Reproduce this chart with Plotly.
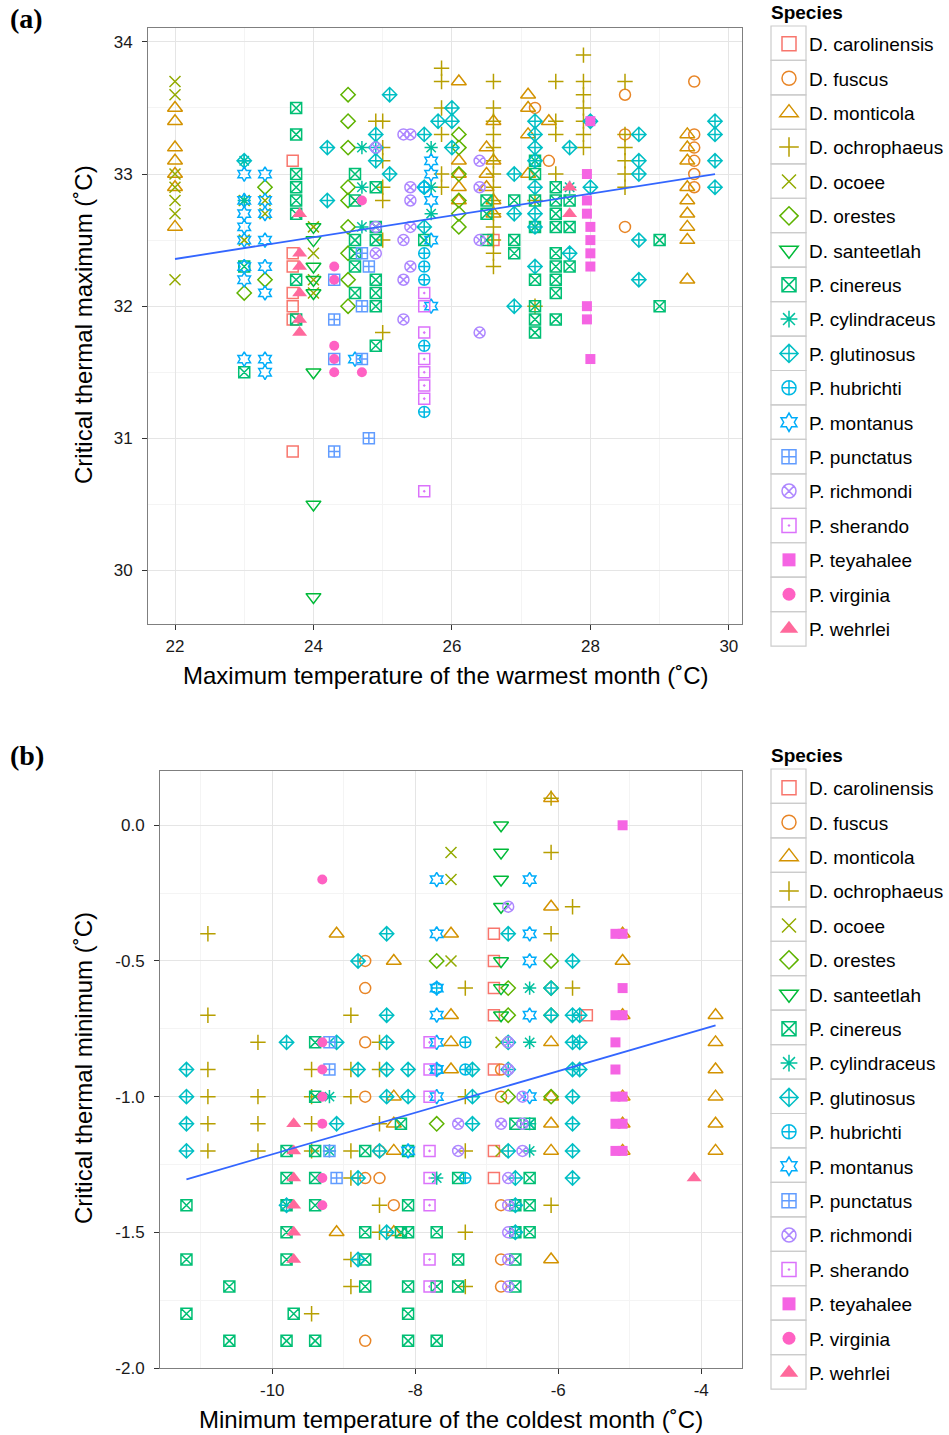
import math
import numpy as np
import plotly.graph_objects as go

# ---------------- data ----------------
SPECIES = ["D. carolinensis", "D. fuscus", "D. monticola", "D. ochrophaeus", "D. ocoee",
           "D. orestes", "D. santeetlah", "P. cinereus", "P. cylindraceus", "P. glutinosus",
           "P. hubrichti", "P. montanus", "P. punctatus", "P. richmondi", "P. sherando",
           "P. teyahalee", "P. virginia", "P. wehrlei"]

# panel (a): (max temp of warmest month, [CTmax values])
A_CAROLINENSIS = [(23.7, [33.1, 32.4, 32.3, 32.1, 32.0, 31.9, 30.9]), (26.6, [32.5])]
A_FUSCUS = [(27.2, [33.5]), (27.4, [33.1]), (28.5, [33.6, 33.3, 32.6]),
            (29.5, [33.7, 33.3, 33.2, 33.1, 33.0, 32.9])]
A_MONTICOLA = [(22.0, [33.5, 33.4, 33.2, 33.1, 33.0, 32.9, 32.6]), (26.1, [33.7, 33.1, 33.0, 32.9, 32.8]),
               (26.5, [33.2, 33.0, 32.9]), (26.6, [33.4, 33.1, 32.8, 32.7]), (27.1, [33.6, 33.5, 33.3, 33.0]),
               (27.4, [33.4]), (29.4, [33.3, 33.2, 33.1, 32.9, 32.8, 32.7, 32.6, 32.5, 32.2])]
A_OCHROPHAEUS = [(24.9, [33.4]), (25.0, [33.4, 33.2, 33.1, 32.9, 32.8, 32.5, 31.8]),
                 (25.85, [33.8, 33.7, 33.5, 33.3, 33.0, 32.9]),
                 (26.6, [33.7, 33.5, 33.4, 33.3, 33.2, 33.1, 33.0, 32.9, 32.8, 32.7, 32.6, 32.5, 32.4, 32.3]),
                 (27.2, [32.8, 32.0]), (27.5, [33.7, 33.4, 33.3, 33.0]),
                 (27.9, [33.9, 33.7, 33.6, 33.5, 33.4, 33.3, 33.2]), (28.5, [33.7, 33.3, 33.2, 33.1, 33.0, 32.9])]
A_OCOEE = [(22.0, [33.7, 33.6, 33.0, 32.9, 32.8, 32.7, 32.2]), (23.0, [32.8, 32.5]), (23.3, [32.8, 32.7]),
           (24.0, [32.6, 32.4, 32.2, 32.1])]
A_ORESTES = [(23.0, [32.1]), (23.3, [32.9, 32.2]), (24.5, [33.6, 33.4, 33.2, 32.9, 32.8, 32.6, 32.4, 32.2, 32.0]),
             (26.1, [33.3, 33.2, 33.0, 32.8, 32.7, 32.6])]
A_SANTEETLAH = [(24.0, [32.6, 32.5, 32.3, 32.2, 32.1, 31.5, 30.5, 29.8])]
A_CINEREUS = [(23.0, [32.3, 31.5]), (23.75, [33.5, 33.3, 33.0, 32.9, 32.8, 32.7, 32.2, 31.9]),
              (24.6, [33.0, 32.8, 32.5, 32.4, 32.3, 32.1]), (24.9, [32.9, 32.6, 32.5, 32.2, 32.1, 32.0, 31.7]),
              (25.6, [32.5]), (26.5, [32.8, 32.7, 32.5]), (26.9, [32.8, 32.5, 32.4]),
              (27.2, [33.1, 33.0, 32.8, 32.6, 32.2, 32.0, 31.9, 31.8]),
              (27.5, [32.9, 32.8, 32.7, 32.6, 32.4, 32.3, 32.2, 32.1, 31.9]), (27.7, [32.8, 32.6, 32.3]),
              (29.0, [32.5, 32.0])]
A_CYLINDRACEUS = [(23.0, [33.1, 32.8]), (24.7, [33.2, 32.9, 32.6]), (25.7, [33.2, 32.9, 32.7]), (27.7, [32.9])]
A_GLUTINOSUS = [(23.0, [33.1]), (24.2, [33.2, 32.8]), (24.9, [33.3, 33.2, 33.1]), (25.1, [33.6, 33.0]),
                (25.6, [33.3, 32.9, 32.6]), (25.8, [33.4]), (26.0, [33.5, 33.4, 33.2]), (26.9, [33.0, 32.7, 32.0]),
                (27.2, [33.4, 33.3, 33.2, 33.1, 32.9, 32.7, 32.6, 32.3]), (27.7, [33.2, 32.4]), (28.0, [33.4, 32.9]),
                (28.7, [33.3, 33.1, 33.0, 32.5, 32.2]), (29.8, [33.4, 33.3, 33.1, 32.9])]
A_HUBRICHTI = [(25.6, [32.9, 32.4, 32.3, 32.2, 31.7, 31.2])]
A_MONTANUS = [(23.0, [33.0, 32.8, 32.7, 32.6, 32.5, 32.3, 32.2, 31.6]),
              (23.3, [33.0, 32.8, 32.7, 32.5, 32.3, 32.1, 31.6, 31.5]), (24.6, [31.6]),
              (25.7, [33.1, 33.0, 32.8, 32.5, 32.0])]
A_PUNCTATUS = [(24.3, [32.2, 31.9, 31.6, 30.9]), (24.7, [32.4, 32.0, 31.6]), (24.8, [32.3, 31.0])]
A_RICHMONDI = [(24.9, [33.2, 32.6, 32.4]), (25.3, [33.3, 32.5, 32.2, 31.9]), (25.4, [33.3, 32.9, 32.8, 32.6, 32.3]),
               (26.4, [33.1, 32.9, 32.5, 31.8])]
A_SHERANDO = [(25.6, [32.1, 32.0, 31.8, 31.6, 31.5, 31.4, 31.3, 30.6])]
A_TEYAHALEE = [(27.95, [33.0, 32.8, 32.7, 32.0, 31.9]), (28.0, [33.4, 32.6, 32.5, 32.4, 32.3, 31.6])]
A_VIRGINIA = [(24.3, [32.3, 32.2, 31.7, 31.6, 31.5]), (24.7, [32.8, 31.5])]
A_WEHRLEI = [(23.8, [32.7, 32.4, 32.3, 32.1, 31.9, 31.8]), (27.7, [32.9, 32.7])]

# panel (b): (min temp of coldest month, [CTmin values])
B_CAROLINENSIS = [(-6.9, [-0.4, -0.5, -0.6, -0.7, -0.9, -1.2, -1.3]), (-5.6, [-0.7])]
B_FUSCUS = [(-8.7, [-0.5, -0.6, -0.8, -1.0, -1.3, -1.9]), (-8.5, [-1.2, -1.3]), (-8.3, [-1.4]),
            (-6.8, [-0.9, -1.0, -1.4, -1.6, -1.7])]
B_MONTICOLA = [(-9.1, [-0.4, -1.5]), (-8.3, [-0.5, -1.0, -1.1, -1.2, -1.5]), (-7.5, [-0.4, -0.7, -0.8, -0.9]),
               (-6.1, [0.1, -0.3, -0.8, -1.0, -1.1, -1.2, -1.6]), (-5.1, [-0.4, -0.5, -0.7, -1.0, -1.1, -1.2]),
               (-3.8, [-0.7, -0.8, -0.9, -1.0, -1.1, -1.2])]
B_OCHROPHAEUS = [(-10.9, [-0.4, -0.7, -0.9, -1.0, -1.1, -1.2]), (-10.2, [-0.8, -1.0, -1.1, -1.2]),
                 (-9.45, [-0.9, -1.0, -1.1, -1.2, -1.8]), (-8.9, [-0.7, -0.9, -1.0, -1.2, -1.3, -1.6, -1.7]),
                 (-8.5, [-0.8, -0.9, -1.1, -1.4, -1.5]), (-7.3, [-0.6, -1.0, -1.2, -1.5, -1.7]),
                 (-6.1, [0.1, -0.1, -0.4, -1.4]), (-5.8, [-0.3, -0.6])]
B_OCOEE = [(-7.5, [-0.1, -0.2, -0.5]), (-6.8, [-0.8, -1.2])]
B_ORESTES = [(-7.7, [-0.5, -1.1]), (-6.7, [-0.6, -0.7, -1.0]), (-6.1, [-0.5, -0.6, -0.7, -1.0])]
B_SANTEETLAH = [(-6.8, [0.0, -0.1, -0.2, -0.3, -0.5, -0.6, -0.7])]
B_CINEREUS = [(-11.2, [-1.4, -1.6, -1.8]), (-10.6, [-1.7, -1.9]), (-9.8, [-1.2, -1.3, -1.4, -1.5, -1.6, -1.9]),
              (-9.7, [-1.8]), (-9.4, [-0.8, -1.0, -1.2, -1.3, -1.4, -1.9]), (-8.7, [-1.2, -1.5, -1.6, -1.7]),
              (-8.2, [-1.1, -1.5]), (-8.1, [-1.2, -1.4, -1.5, -1.7, -1.8, -1.9]), (-7.7, [-1.5, -1.7, -1.9]),
              (-7.4, [-1.3, -1.6, -1.7]), (-6.6, [-1.1, -1.4, -1.5, -1.6, -1.7]), (-6.4, [-1.1, -1.3, -1.4, -1.5])]
B_CYLINDRACEUS = [(-9.2, [-1.0, -1.2]), (-7.7, [-1.3]), (-6.4, [-0.6, -0.8, -1.1, -1.2])]
B_GLUTINOSUS = [(-11.2, [-0.9, -1.0, -1.1, -1.2]), (-9.8, [-0.8, -1.4]), (-9.1, [-0.8, -1.1]),
                (-8.8, [-0.5, -0.9, -1.3, -1.6]), (-8.5, [-1.2]), (-8.4, [-0.4, -0.7, -0.8, -0.9, -1.0, -1.5]),
                (-8.1, [-0.9, -1.0]), (-7.2, [-0.9, -1.0, -1.1]), (-6.7, [-0.4, -0.8, -0.9, -1.2]),
                (-6.6, [-1.3, -1.4, -1.5]), (-6.1, [-0.6, -0.7]),
                (-5.8, [-0.5, -0.7, -0.8, -0.9, -1.0, -1.1, -1.2, -1.3]), (-5.7, [-0.7, -0.8, -0.9])]
B_HUBRICHTI = [(-7.7, [-0.6, -0.9]), (-7.3, [-0.8, -0.9, -1.3])]
B_MONTANUS = [(-7.7, [-0.2, -0.4, -0.6, -0.7, -0.8, -0.9, -1.0]), (-8.1, [-1.2]),
              (-6.4, [-0.2, -0.4, -0.5, -0.7, -1.0])]
B_PUNCTATUS = [(-9.2, [-0.8, -0.9, -1.2]), (-9.1, [-1.3])]
B_RICHMONDI = [(-7.4, [-1.1, -1.2]), (-6.8, [-1.1]), (-6.7, [-0.3, -0.8, -0.9, -1.3, -1.4, -1.5, -1.6, -1.7]),
               (-6.5, [-1.0, -1.1, -1.2])]
B_SHERANDO = [(-7.8, [-0.8, -0.9, -1.0, -1.2, -1.3, -1.4, -1.6, -1.7])]
B_TEYAHALEE = [(-5.1, [0.0, -0.4, -0.6, -0.7, -1.0, -1.1, -1.2]), (-5.2, [-0.4, -0.7, -0.8, -0.9, -1.0, -1.1, -1.2])]
B_VIRGINIA = [(-9.3, [-0.2, -0.8, -0.9, -1.0, -1.1, -1.3, -1.4])]
B_WEHRLEI = [(-9.7, [-1.1, -1.2, -1.3, -1.4, -1.5, -1.6]), (-4.1, [-1.3])]

PANEL_A = [A_CAROLINENSIS, A_FUSCUS, A_MONTICOLA, A_OCHROPHAEUS, A_OCOEE, A_ORESTES, A_SANTEETLAH,
           A_CINEREUS, A_CYLINDRACEUS, A_GLUTINOSUS, A_HUBRICHTI, A_MONTANUS, A_PUNCTATUS, A_RICHMONDI,
           A_SHERANDO, A_TEYAHALEE, A_VIRGINIA, A_WEHRLEI]
PANEL_B = [B_CAROLINENSIS, B_FUSCUS, B_MONTICOLA, B_OCHROPHAEUS, B_OCOEE, B_ORESTES, B_SANTEETLAH,
           B_CINEREUS, B_CYLINDRACEUS, B_GLUTINOSUS, B_HUBRICHTI, B_MONTANUS, B_PUNCTATUS, B_RICHMONDI,
           B_SHERANDO, B_TEYAHALEE, B_VIRGINIA, B_WEHRLEI]

A_XTICKS = [22, 24, 26, 28, 30]
A_YTICKS = [30, 31, 32, 33, 34]
B_XTICKS = [-10, -8, -6, -4]
B_XTICKTEXT = ["-10", "-8", "-6", "-4"]
B_YTICKS = [0.0, -0.5, -1.0, -1.5, -2.0]
B_YTICKTEXT = ["0.0", "-0.5", "-1.0", "-1.5", "-2.0"]

# ---------------- styles ----------------
SYMBOLS = ["square-open", "circle-open", "triangle-up-open", "cross-thin-open", "x-thin-open",
           "diamond-open", "triangle-down-open", "square-x-open", "asterisk-open", "diamond-cross-open",
           "circle-cross-open", "hexagram-open", "square-cross-open", "circle-x-open", "square-open-dot",
           "square", "circle", "triangle-up"]
FILLED = ("square", "circle", "triangle-up")


def msize(sym, base):
    if sym.startswith("triangle"):
        return base + 2
    if sym in FILLED:
        return base - 1
    return base


def hcl_hex(h, c=100.0, l=65.0):
    xn, yn, zn = 0.95047, 1.0, 1.08883
    hr = math.radians(h)
    U, V = c * math.cos(hr), c * math.sin(hr)
    Y = yn * ((l + 16) / 116) ** 3
    den = xn + 15 * yn + 3 * zn
    un, vn = 4 * xn / den, 9 * yn / den
    u = U / (13 * l) + un
    v = V / (13 * l) + vn
    X = 9.0 * Y * u / (4 * v)
    Z = -X / 3 - 5 * Y + 3 * Y / v
    r = 3.240479 * X - 1.537150 * Y - 0.498535 * Z
    g = -0.969256 * X + 1.875992 * Y + 0.041556 * Z
    b = 0.055648 * X - 0.204043 * Y + 1.057311 * Z

    def gam(t):
        t = 12.92 * t if t <= 0.0031308 else 1.055 * t ** (1 / 2.4) - 0.055
        return int(round(min(max(t, 0.0), 1.0) * 255))
    return "#%02X%02X%02X" % (gam(r), gam(g), gam(b))


n = len(SPECIES)
COLORS = [hcl_hex(15 + 360.0 * i / n) for i in range(n)]

FONT = "Liberation Sans, Arial, sans-serif"
W, H = 949, 1435
ML, MR, MT, MB = 148, 207, 28, 67
PW, PH = W - ML - MR, H - MT - MB


def px(xp):
    return (xp - ML) / PW


def py(yp):
    return 1 - (yp - MT) / PH


fig = go.Figure()

for panel, xa, ya, leg in [(PANEL_A, "x", "y", "legend"), (PANEL_B, "x2", "y2", "legend2")]:
    allx, ally = [], []
    for i, groups in enumerate(panel):
        xs, ys = [], []
        for xv, yl in groups:
            xs += [xv] * len(yl)
            ys += yl
        allx += xs
        ally += ys
        sym = SYMBOLS[i]
        fig.add_trace(go.Scatter(
            x=xs, y=ys, mode="markers", xaxis=xa, yaxis=ya, showlegend=False,
            marker=dict(symbol=sym, size=msize(sym, 11), color=COLORS[i],
                        line=dict(color=COLORS[i], width=0 if sym in FILLED else 1.5))))
    # linear fit
    k, b0 = np.polyfit(allx, ally, 1)
    xl = np.array([min(allx), max(allx)])
    fig.add_trace(go.Scatter(x=xl, y=k * xl + b0, mode="lines", xaxis=xa, yaxis=ya, showlegend=False,
                             line=dict(color="#3366FF", width=1.8)))
    # legend entries
    for i, sp in enumerate(SPECIES):
        sym = SYMBOLS[i]
        fig.add_trace(go.Scatter(
            x=[None], y=[None], mode="markers", xaxis=xa, yaxis=ya, name=sp, legend=leg,
            legendgroup=leg + str(i),
            marker=dict(symbol=sym, size=min(msize(sym, 14), 16), color=COLORS[i],
                        line=dict(color=COLORS[i], width=0 if sym in FILLED else 1.5))))

axis_common = dict(showline=True, linecolor="#7F7F7F", linewidth=1, mirror=True,
                   ticks="outside", ticklen=5, tickwidth=1, tickcolor="#333333",
                   gridcolor="#E5E5E5", gridwidth=1, zeroline=False,
                   tickfont=dict(family=FONT, size=17, color="#1A1A1A"))

fig.update_layout(
    width=W, height=H, margin=dict(l=ML, r=MR, t=MT, b=MB, autoexpand=False),
    plot_bgcolor="white", paper_bgcolor="white", font=dict(family=FONT, color="black"),
    xaxis=dict(domain=[0, 1], anchor="y", range=[21.61, 30.19], tickvals=A_XTICKS,
               minor=dict(tickvals=[23, 25, 27, 29], showgrid=True, gridcolor="#F4F4F4", ticks=""),
               ticklabelstandoff=2, **axis_common),
    yaxis=dict(domain=[py(624), 1], anchor="x", range=[29.595, 34.105], tickvals=A_YTICKS,
               minor=dict(tickvals=[29.5, 30.5, 31.5, 32.5, 33.5], showgrid=True, gridcolor="#F4F4F4", ticks=""),
               ticklabelstandoff=6, **axis_common),
    xaxis2=dict(domain=[px(160), 1], anchor="y2", range=[-11.57, -3.43], tickvals=B_XTICKS,
                ticktext=B_XTICKTEXT,
                minor=dict(tickvals=[-11, -9, -7, -5], showgrid=True, gridcolor="#F4F4F4", ticks=""),
                ticklabelstandoff=2, **axis_common),
    yaxis2=dict(domain=[0, py(771)], anchor="x2", range=[-2.0, 0.2], tickvals=B_YTICKS,
                ticktext=B_YTICKTEXT,
                minor=dict(tickvals=[0.25, -0.25, -0.75, -1.25, -1.75], showgrid=True,
                           gridcolor="#F4F4F4", ticks=""),
                ticklabelstandoff=6, **axis_common),
)

leg_common = dict(xanchor="left", yanchor="top", bgcolor="rgba(0,0,0,0)", borderwidth=0,
                  font=dict(family=FONT, size=19, color="black"), tracegroupgap=6.7,
                  traceorder="grouped", itemclick=False, itemdoubleclick=False)
fig.update_layout(
    legend=dict(x=px(769), y=py(25), **leg_common),
    legend2=dict(x=px(769), y=py(769), **leg_common),
)

# legend key boxes (ggplot style)
shapes = []
for top in (26, 769):
    for i in range(n):
        y0 = top + i * 34.45
        shapes.append(dict(type="rect", xref="paper", yref="paper", x0=px(771), x1=px(806),
                           y0=py(y0), y1=py(y0 + 34.45), line=dict(color="#CCCCCC", width=1.2),
                           fillcolor="rgba(0,0,0,0)", layer="below"))
fig.update_layout(shapes=shapes)

ann = []
for lab, yy in (("<b>Species</b>", 12), ("<b>Species</b>", 755)):
    ann.append(dict(text=lab, x=px(769), y=py(yy), xref="paper", yref="paper", xanchor="left",
                    yanchor="middle", showarrow=False, font=dict(family=FONT, size=19, color="black")))
ann.append(dict(text="<b>(a)</b>", x=px(8), y=py(18), xref="paper", yref="paper", xanchor="left",
                yanchor="middle", showarrow=False, font=dict(family="Liberation Serif", size=28, color="black")))
ann.append(dict(text="<b>(b)</b>", x=px(8), y=py(755), xref="paper", yref="paper", xanchor="left",
                yanchor="middle", showarrow=False, font=dict(family="Liberation Serif", size=28, color="black")))
ann.append(dict(text="Maximum temperature of the warmest month (˚C)", x=px(445), y=py(675), xref="paper",
                yref="paper", xanchor="center", yanchor="middle", showarrow=False,
                font=dict(family=FONT, size=24, color="black")))
ann.append(dict(text="Minimum temperature of the coldest month (˚C)", x=px(451), y=py(1419), xref="paper",
                yref="paper", xanchor="center", yanchor="middle", showarrow=False,
                font=dict(family=FONT, size=24, color="black")))
ann.append(dict(text="Critical thermal maximum (˚C)", x=px(83), y=py(325), xref="paper", yref="paper",
                xanchor="center", yanchor="middle", textangle=-90, showarrow=False,
                font=dict(family=FONT, size=24, color="black")))
ann.append(dict(text="Critical thermal minimum (˚C)", x=px(83), y=py(1068), xref="paper", yref="paper",
                xanchor="center", yanchor="middle", textangle=-90, showarrow=False,
                font=dict(family=FONT, size=24, color="black")))
fig.update_layout(annotations=ann)

fig.write_html("out.html")
